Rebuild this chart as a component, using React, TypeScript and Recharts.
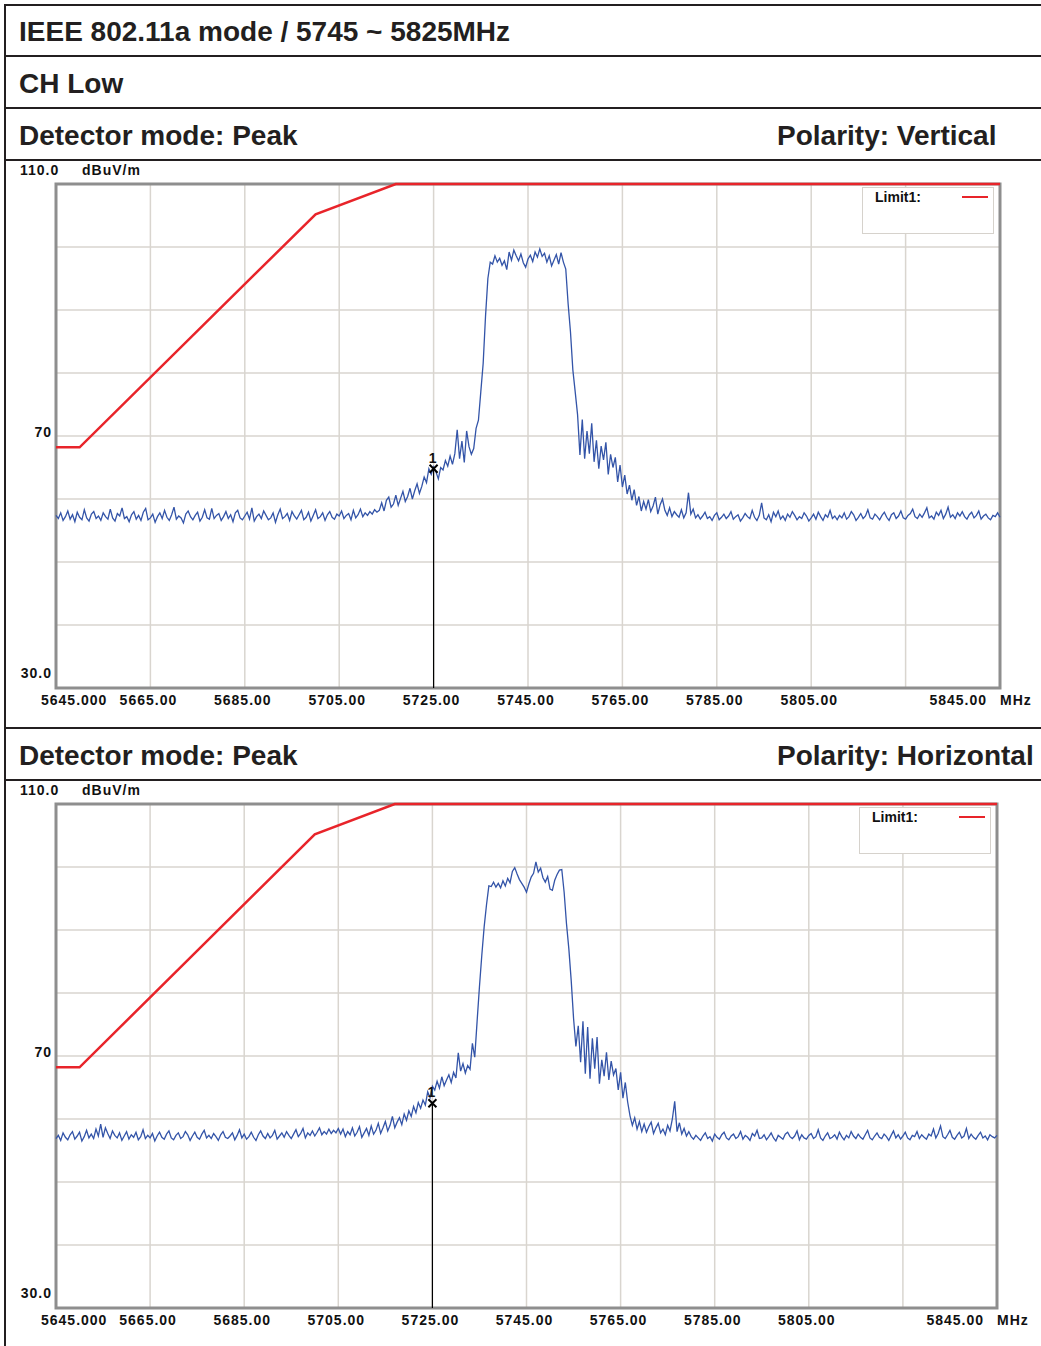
import React from "react";
import {
  LineChart,
  Line,
  XAxis,
  YAxis,
  CartesianGrid,
  ReferenceArea,
  ReferenceLine,
  ReferenceDot,
} from "recharts";

// sweep: 5645 MHz start, 0.5 MHz per trace point (401 points)
const SWEEP_START = 5645;
const SWEEP_STEP = 0.5;

const FREQ_TICKS = [5645, 5665, 5685, 5705, 5725, 5745, 5765, 5785, 5805, 5825, 5845];
const LEVEL_TICKS = [30, 40, 50, 60, 70, 80, 90, 100, 110];

const LIMIT_FREQ = [5645, 5650, 5700, 5717, 5845];
const LIMIT_LEVEL = [68.2, 68.2, 105.2, 110, 110];

// ---- Polarity: Vertical (dBuV/m) ----
const V_FLOOR_LOW = [
  57.4, 56.9, 57.8, 56.6, 57.2, 58.1, 56.8, 57.5, 56.4, 57.9,
  57.1, 56.7, 58.3, 57.0, 56.5, 57.6, 58.0, 56.9, 57.3, 56.6,
  57.8, 57.2, 56.8, 58.4, 57.0, 56.5, 57.7, 57.3, 58.6, 56.9,
  57.2, 56.4, 57.5, 58.0, 56.8, 57.4, 56.6, 57.9, 58.5, 56.7,
  57.0, 57.6, 56.3, 57.2, 57.8, 56.9, 58.2, 57.1, 56.6, 57.5,
  58.7, 56.8, 57.3, 57.0, 56.2, 57.6, 58.1, 57.2, 56.7, 57.4,
  57.9, 56.5, 57.1, 58.3, 57.0, 56.8, 58.5, 56.9, 57.4, 57.7,
  56.6, 57.2, 58.0, 56.9, 57.5, 56.4, 57.8, 58.2, 57.0, 56.7,
  57.3, 57.9, 56.8, 58.6, 56.5, 57.2, 57.6, 56.9, 58.1, 57.4,
  56.7, 57.0, 57.8, 56.3, 57.5, 58.4, 56.9, 57.2, 57.7, 56.6,
  58.0, 57.3, 56.8, 57.5, 58.2, 56.7, 57.1, 57.9, 56.5, 57.4,
  58.3, 56.9, 57.2, 57.8, 56.6, 57.5, 58.0, 57.1, 56.8, 57.6,
  57.3, 58.1, 56.9, 57.4, 57.7, 56.7, 58.2, 57.0, 57.5, 58.4,
  57.2, 57.8, 57.4, 58.0, 57.6, 58.3, 57.9,
];
const V_RISE = [
  58.2, 59.4, 58.1, 59.8, 60.3, 58.7, 59.2, 60.6, 59.0, 60.1,
  61.2, 59.6, 60.4, 61.7, 60.0, 61.3, 62.4, 60.9, 62.0, 63.5,
  62.6, 64.8, 63.9, 65.1,
];
const V_SHOULDER_L = [
  64.3, 63.2, 65.0, 64.6, 66.1, 65.2, 66.8, 65.5, 67.2, 71.0,
  66.4, 69.2, 65.8, 70.8, 68.3, 67.1, 68.0, 71.2,
];
const V_EDGE_L = [72.5, 77.0, 81.5, 89.0, 95.0, 97.6];
const V_TOP = [
  97.3, 98.6, 97.6, 98.2, 97.1, 97.8, 96.4, 99.2, 97.9, 99.5,
  98.6, 97.8, 98.9, 97.5, 96.8, 98.1, 98.7, 97.7, 99.2, 98.4,
  99.7, 98.5, 99.0, 97.6, 98.6, 97.0, 97.9, 98.8, 97.3, 99.1,
  97.6,
];
const V_EDGE_R = [96.5, 91.0, 86.5, 80.5, 77.0, 73.4, 67.0];
const V_SHOULDER_R = [
  72.6, 66.4, 70.8, 67.2, 72.0, 65.9, 69.3, 64.8, 68.4, 66.2,
  69.0, 63.9, 67.1, 65.0, 66.6, 62.7, 65.4, 61.9, 63.8, 60.8,
  62.2,
];
const V_DECAY = [
  59.8, 61.5, 59.0, 60.4, 58.1, 59.6, 58.4, 59.9, 58.0, 58.9,
  60.3, 57.6, 59.1, 60.0, 58.2, 57.4, 58.6, 57.2, 58.0, 57.5,
  57.1, 58.3, 57.0, 57.8, 61.0, 57.6, 58.4,
];
const V_FLOOR_HIGH = [
  57.0, 57.5, 56.8, 57.3, 57.9, 56.9, 57.2, 56.6, 57.4, 57.8,
  56.7, 57.1, 57.6, 56.9, 57.3, 58.0, 56.8, 57.2, 57.5, 56.5,
  57.0, 57.7, 57.2, 56.9, 58.2, 57.1, 56.6, 57.4, 59.4, 57.0,
  56.7, 57.5, 56.4, 57.9, 57.2, 58.1, 56.8, 57.3, 56.6, 57.6,
  57.1, 58.0, 57.4, 56.7, 57.2, 56.9, 57.8, 57.3, 56.5, 57.0,
  57.6, 56.8, 57.9, 57.2, 56.6, 57.5, 57.1, 58.2, 56.9, 57.3,
  56.7, 57.4, 57.0, 57.8, 56.8, 57.2, 58.0, 57.5, 56.6, 57.1,
  57.7, 56.9, 57.3, 58.3, 57.0, 56.8, 57.6, 57.2, 56.7, 57.4,
  57.9, 57.1, 56.6, 57.5, 57.8, 56.9, 57.3, 58.1, 57.0, 56.8,
  57.4, 57.7, 58.4, 57.2, 56.9, 57.6, 57.1, 57.8, 58.6, 57.0,
  57.3, 56.8, 57.9, 57.4, 58.2, 56.9, 57.6, 58.7, 57.1, 57.5,
  56.9, 57.8, 57.3, 58.0, 57.2, 56.8, 57.5, 57.9, 57.0, 57.4,
  58.1, 56.8, 57.3, 57.6, 57.0, 56.7, 57.4, 57.2, 57.8, 57.1,
];
const V_MARKER = { f: 5725, v: 64.8 };

// ---- Polarity: Horizontal (dBuV/m) ----
const H_FLOOR_LOW = [
  56.9, 57.4, 56.6, 57.8, 57.1, 56.7, 57.5, 58.0, 56.8, 57.3,
  57.9, 56.5, 57.2, 58.2, 57.0, 57.6, 56.9, 58.4, 57.3, 59.2,
  57.1, 58.6, 57.7, 56.9, 58.1, 57.4, 57.0, 57.8, 56.6, 57.3,
  58.0, 56.8, 57.5, 57.1, 57.9, 56.7, 57.2, 58.3, 56.9, 57.4,
  57.0, 57.7, 56.5, 57.3, 57.9, 57.1, 56.8, 57.6, 58.1, 57.0,
  56.7, 57.4, 57.8, 56.9, 57.2, 58.0, 57.5, 56.6, 57.3, 57.9,
  57.1, 56.8, 57.6, 58.2, 57.0, 57.4, 56.9, 57.7, 57.2, 56.6,
  57.5, 58.0, 57.1, 56.9, 57.3, 57.8, 56.7, 57.4, 58.3, 57.0,
  57.6, 56.8, 57.2, 57.9, 57.1, 56.6, 57.5, 58.1, 57.3, 56.9,
  57.7, 57.0, 57.4, 58.2, 56.8, 57.3, 57.8, 57.1, 58.0, 57.4,
  56.9, 57.6, 58.3, 57.2, 57.7, 58.5, 57.0, 57.8, 57.4, 58.1,
  57.3, 57.9, 58.6, 57.5, 58.0, 57.6, 58.4, 57.7, 58.2, 57.8,
  58.5,
];
const H_RISE = [
  57.6, 58.4, 57.2, 58.0, 57.5, 58.6, 57.3, 57.9, 58.8, 57.1,
  57.8, 58.5, 57.4, 58.9, 57.6, 58.2, 59.3, 57.7, 58.6, 59.6,
  58.1, 59.0, 60.4, 58.6, 59.5, 60.2, 59.1, 60.8, 59.8, 61.3,
  60.4, 62.0, 61.0, 62.6, 61.7, 63.0, 62.2, 64.3, 63.4, 65.2,
];
const H_SHOULDER_L = [
  64.6, 66.0, 64.9, 66.7, 65.3, 66.2, 67.0, 65.8, 67.4, 66.5,
  70.5, 67.6, 68.8, 67.3, 68.5, 67.9, 72.0, 69.8,
];
const H_EDGE_L = [75.5, 81.0, 86.0, 90.5, 94.0, 97.0];
const H_TOP = [
  96.9, 97.6, 96.8, 97.4, 96.7, 97.8, 97.0, 98.2, 97.5, 99.3,
  99.9, 98.9, 98.0, 97.4, 96.8, 96.0, 97.3, 98.4, 99.0, 100.8,
  99.2, 99.8, 98.3, 97.6, 98.5, 96.5, 96.3, 97.9, 98.8, 99.5,
  99.6,
];
const H_EDGE_R = [96.0, 91.0, 87.0, 82.0, 76.0, 71.5, 74.8];
const H_SHOULDER_R = [
  69.0, 75.5, 67.2, 74.6, 66.4, 72.8, 68.0, 73.0, 65.6, 69.4,
  66.8, 70.6, 66.2, 69.2, 67.0, 68.0, 64.6, 67.4, 63.3, 65.8,
  62.7,
];
const H_DECAY = [
  60.5, 59.0, 60.2, 58.4, 59.6, 58.0, 59.2, 57.9, 58.8, 59.5,
  57.7, 58.6, 59.3, 57.8, 58.4, 57.5, 59.0, 58.1, 60.0, 62.8,
  58.0, 59.4, 57.6, 58.5, 57.3, 58.0, 57.2,
];
const H_FLOOR_HIGH = [
  56.8, 57.4, 57.0, 56.6, 57.3, 57.8, 56.9, 57.2, 56.5, 57.6,
  57.1, 56.8, 57.5, 57.9, 57.0, 56.7, 57.3, 57.6, 56.9, 57.2,
  58.0, 56.8, 57.4, 57.1, 56.6, 57.7, 57.3, 58.2, 56.9, 57.0,
  57.5, 56.7, 57.2, 57.8, 57.0, 56.5, 57.4, 57.1, 56.8, 57.6,
  57.9, 57.2, 56.9, 57.3, 58.1, 56.7, 57.5, 57.0, 56.8, 57.4,
  57.7, 56.9, 57.2, 58.3, 57.0, 56.6, 57.3, 57.8, 56.9, 57.1,
  57.5, 56.8, 57.9, 57.2, 56.7, 57.4, 57.0, 58.0, 57.3, 56.9,
  57.6, 57.1, 56.8, 57.5, 58.2, 57.0, 56.7, 57.3, 57.8, 57.1,
  56.9, 57.6, 57.2, 56.6, 57.4, 58.1, 57.0, 57.5, 56.8, 57.3,
  57.9, 57.0, 56.7, 57.4, 57.2, 58.0, 56.9, 57.5, 57.1, 56.8,
  57.6, 57.3, 58.4, 57.0, 57.7, 58.9, 57.2, 56.9, 57.5, 58.2,
  57.1, 56.8, 57.4, 57.9, 57.0, 57.3, 58.5, 56.9, 57.6, 57.1,
  56.8, 57.4, 57.9, 57.0, 57.3, 56.7, 57.5, 57.2, 57.0, 57.4,
];
const H_MARKER = { f: 5725, v: 62.5 };

const toTrace = (levels: number[]) =>
  levels.map((v, i) => ({ f: SWEEP_START + i * SWEEP_STEP, v }));

const verticalTrace = toTrace([
  ...V_FLOOR_LOW, ...V_RISE, ...V_SHOULDER_L, ...V_EDGE_L, ...V_TOP,
  ...V_EDGE_R, ...V_SHOULDER_R, ...V_DECAY, ...V_FLOOR_HIGH,
]);
const horizontalTrace = toTrace([
  ...H_FLOOR_LOW, ...H_RISE, ...H_SHOULDER_L, ...H_EDGE_L, ...H_TOP,
  ...H_EDGE_R, ...H_SHOULDER_R, ...H_DECAY, ...H_FLOOR_HIGH,
]);
const limitLine = LIMIT_FREQ.map((f, i) => ({ f, v: LIMIT_LEVEL[i] }));

const TEXT = "#231f20";
const HEAD_FONT = "'Liberation Sans', Arial, Helvetica, sans-serif";
const tickStyle = {
  fontFamily: HEAD_FONT,
  fontWeight: 700,
  fontSize: 14,
  letterSpacing: 1,
  fill: "#111",
};

const PLOT_TOP = 24;
const PLOT_H = 504;

function MarkerShape(props: any) {
  const { cx, cy } = props;
  return (
    <g>
      <path
        d={`M${cx - 4},${cy - 4}L${cx + 4},${cy + 4}M${cx + 4},${cy - 4}L${cx - 4},${cy + 4}`}
        stroke="#000"
        strokeWidth={2}
      />
      <text x={cx - 1} y={cy - 6} textAnchor="middle" style={{ ...tickStyle, letterSpacing: 0 }} fill="#000">
        1
      </text>
    </g>
  );
}

interface PanelProps {
  top: number;
  height: number;
  right: number;
  trace: { f: number; v: number }[];
  marker: { f: number; v: number };
}

function Panel({ top, height, right, trace, marker }: PanelProps) {
  const plotBottom = PLOT_TOP + PLOT_H;
  const plotRight = 1041 - right;

  const xTick = (p: any) => {
    const { x, payload } = p;
    const val = payload.value;
    const y = plotBottom + 17;
    if (val === 5825) return <g />;
    if (val === 5645)
      return (
        <text x={x - 15} y={y} style={tickStyle} textAnchor="start">
          5645.000
        </text>
      );
    if (val === 5845)
      return (
        <g>
          <text x={x - 13} y={y} style={tickStyle} textAnchor="end">
            5845.00
          </text>
          <text x={x} y={y} style={tickStyle} textAnchor="start">
            MHz
          </text>
        </g>
      );
    return (
      <text x={x - 2} y={y} style={tickStyle} textAnchor="middle">
        {val.toFixed(2)}
      </text>
    );
  };

  const yTick = (p: any) => {
    const { y, payload } = p;
    const val = payload.value;
    if (val === 110)
      return (
        <g>
          <text x={20} y={y - 9} style={tickStyle} textAnchor="start">
            110.0
          </text>
          <text x={82} y={y - 9} style={tickStyle} textAnchor="start">
            dBuV/m
          </text>
        </g>
      );
    if (val === 70)
      return (
        <text x={52} y={y + 1} style={tickStyle} textAnchor="end">
          70
        </text>
      );
    if (val === 30)
      return (
        <text x={52} y={y - 10} style={tickStyle} textAnchor="end">
          30.0
        </text>
      );
    return <g />;
  };

  return (
    <div style={{ position: "absolute", left: 0, top, width: 1041, height }}>
      <LineChart
        width={1041}
        height={height}
        margin={{ top: PLOT_TOP, right, bottom: height - PLOT_TOP - PLOT_H - 30, left: 16 }}
      >
        <CartesianGrid stroke="#d9d5cf" strokeWidth={1.5} />
        <XAxis
          type="number"
          dataKey="f"
          domain={[5645, 5845]}
          ticks={FREQ_TICKS}
          interval={0}
          height={30}
          tickSize={0}
          tickMargin={0}
          axisLine={false}
          tickLine={false}
          tick={xTick}
        />
        <YAxis
          type="number"
          domain={[30, 110]}
          ticks={LEVEL_TICKS}
          interval={0}
          width={40}
          tickSize={0}
          tickMargin={0}
          axisLine={false}
          tickLine={false}
          tick={yTick}
        />
        <ReferenceArea x1={5645} x2={5845} y1={30} y2={110} fill="none" stroke="#8e8e8e" strokeWidth={3} />
        <Line
          data={trace}
          dataKey="v"
          stroke="#3354a8"
          strokeWidth={1.3}
          dot={false}
          isAnimationActive={false}
        />
        <Line
          data={limitLine}
          dataKey="v"
          stroke="#e8242a"
          strokeWidth={2.5}
          dot={false}
          isAnimationActive={false}
        />
        <ReferenceLine
          segment={[
            { x: marker.f, y: marker.v },
            { x: marker.f, y: 30 },
          ]}
          stroke="#000"
          strokeWidth={1.2}
        />
        <ReferenceDot x={marker.f} y={marker.v} r={5} shape={MarkerShape} />
      </LineChart>
      <div
        style={{
          position: "absolute",
          left: plotRight - 138,
          top: PLOT_TOP + 3,
          width: 130,
          height: 45,
          border: "1.5px solid #d6d2cc",
          background: "#fff",
        }}
      >
        <span
          style={{
            position: "absolute",
            left: 12,
            top: 1,
            fontFamily: HEAD_FONT,
            fontWeight: 700,
            fontSize: 14,
            color: "#111",
          }}
        >
          Limit1:
        </span>
        <div
          style={{
            position: "absolute",
            left: 99,
            top: 8,
            width: 26,
            height: 2,
            background: "#e8242a",
          }}
        />
      </div>
    </div>
  );
}

const ROW_LINES = [5, 56, 108, 160, 728, 780];

export default function App() {
  const head = { fontFamily: HEAD_FONT, fontWeight: 700, fontSize: 28, fill: TEXT };
  return (
    <div style={{ position: "absolute", left: 0, top: 0, width: 1041, height: 1346, background: "#fff" }}>
      <svg width={1041} height={1346} style={{ position: "absolute", left: 0, top: 0 }}>
        <line x1={5} y1={4} x2={5} y2={1346} stroke={TEXT} strokeWidth={2} />
        {ROW_LINES.map((y) => (
          <line key={y} x1={4} y1={y} x2={1041} y2={y} stroke={TEXT} strokeWidth={2} />
        ))}
        <text x={19} y={41} style={head}>IEEE 802.11a mode / 5745 ~ 5825MHz</text>
        <text x={19} y={93} style={head}>CH Low</text>
        <text x={19} y={145} style={head}>Detector mode: Peak</text>
        <text x={777} y={145} style={head}>Polarity: Vertical</text>
        <text x={19} y={765} style={head}>Detector mode: Peak</text>
        <text x={777} y={765} style={head}>Polarity: Horizontal</text>
      </svg>
      <Panel top={160} height={568} right={41} trace={verticalTrace} marker={V_MARKER} />
      <Panel top={780} height={566} right={44} trace={horizontalTrace} marker={H_MARKER} />
    </div>
  );
}
